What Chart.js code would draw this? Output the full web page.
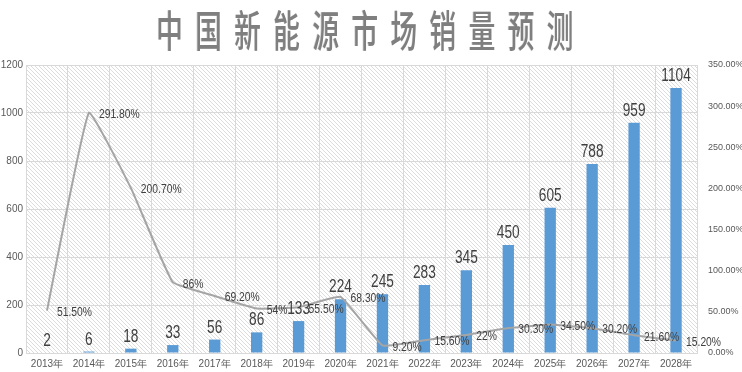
<!DOCTYPE html>
<html lang="zh">
<head>
    <meta charset="UTF-8">
    <title>中国新能源市场销量预测</title>
    <script src="https://cdn.jsdelivr.net/npm/chart.js"></script>
    <style>
        body { margin: 0; background: #fff; }
        .wrap { position: relative; width: 742px; height: 372px; }
        .title {
            position: absolute;
            left: 0; right: 0; top: 3px;
            text-align: center;
            font-family: "Noto Sans CJK SC", sans-serif;
            font-size: 43px;
            font-weight: 500;
            color: #7f7f7f;
            letter-spacing: 20px;
            transform: scaleX(0.62);
            text-shadow: -1px 0 #d0d0d0;
            line-height: 50px;
            white-space: nowrap;
        }
        canvas { position: absolute; left: 0; top: 0; }
    </style>
</head>
<body>
<div class="wrap">
    <canvas id="chart" width="742" height="372"></canvas>
    <div class="title">中国新能源市场销量预测</div>
</div>
<script>
    const years = ['2013年', '2014年', '2015年', '2016年', '2017年', '2018年', '2019年', '2020年',
                   '2021年', '2022年', '2023年', '2024年', '2025年', '2026年', '2027年', '2028年'];
    const sales = [2, 6, 18, 33, 56, 86, 133, 224, 245, 283, 345, 450, 605, 788, 959, 1104];
    const growth = [51.5, 291.8, 200.7, 86, 69.2, 54, 55.5, 68.3, 9.2, 15.6, 22, 30.3, 34.5, 30.2, 21.6, 15.2];

    function pct(v) {
        // Excel style: 86% stays 86%, 51.5 -> 51.50%
        return Number.isInteger(v) ? v + '%' : v.toFixed(2) + '%';
    }

    // diagonal hatch behind the plot
    const hatch = {
        id: 'hatch',
        beforeDraw(chart) {
            const { ctx, chartArea: a } = chart;
            ctx.save();
            ctx.beginPath();
            ctx.rect(a.left, a.top, a.right - a.left, a.bottom - a.top);
            ctx.clip();
            ctx.strokeStyle = '#dcdcdc';
            ctx.lineWidth = 1;
            const h = a.bottom - a.top;
            for (let x = a.left - h; x < a.right; x += 4) {
                ctx.beginPath();
                ctx.moveTo(x, a.top);
                ctx.lineTo(x + h, a.bottom);
                ctx.stroke();
            }
            ctx.restore();
        }
    };

    // narrow text, like Arial Narrow in the original
    function narrowText(ctx, text, x, y, sx) {
        ctx.save();
        ctx.translate(x, y);
        ctx.scale(sx, 1);
        ctx.fillText(text, 0, 0);
        ctx.restore();
    }

    // value labels for bars and line
    const labels = {
        id: 'labels',
        afterDatasetsDraw(chart) {
            const ctx = chart.ctx;
            ctx.save();
            ctx.fillStyle = '#404040';
            ctx.textBaseline = 'alphabetic';
            ctx.font = '18px "Liberation Sans", sans-serif';
            ctx.textAlign = 'center';
            chart.getDatasetMeta(0).data.forEach((el, i) => {
                narrowText(ctx, sales[i], el.x, el.y - 7, 0.76);
            });
            ctx.font = '12px "Liberation Sans", sans-serif';
            ctx.textAlign = 'left';
            ctx.textBaseline = 'middle';
            chart.getDatasetMeta(1).data.forEach((el, i) => {
                narrowText(ctx, pct(growth[i]), el.x + 10, el.y + 2, 0.86);
            });
            ctx.restore();
        }
    };

    new Chart(document.getElementById('chart'), {
        type: 'bar',
        data: {
            labels: years,
            datasets: [{
                type: 'bar',
                label: '销量',
                data: sales,
                backgroundColor: '#5b9bd5',
                categoryPercentage: 1,
                barPercentage: 0.27,
                yAxisID: 'y',
                order: 2
            }, {
                type: 'line',
                label: '增长率',
                data: growth,
                borderColor: '#a5a5a5',
                borderWidth: 2,
                pointRadius: 0,
                tension: 0.1,
                yAxisID: 'y1',
                order: 1
            }]
        },
        options: {
            responsive: false,
            animation: false,
            layout: { padding: { top: 65, right: 0, left: 0, bottom: 0 } },
            plugins: { legend: { display: false }, tooltip: { enabled: false } },
            scales: {
                x: {
                    grid: { color: '#d9d9d9', offset: true, drawTicks: false },
                    border: { color: '#d9d9d9' },
                    ticks: { color: '#595959', font: { size: 10, family: 'Liberation Sans' }, padding: 5, maxRotation: 0 },
                    afterFit(s) { s.height = 19; }
                },
                y: {
                    position: 'left',
                    min: 0, max: 1200,
                    ticks: {
                        stepSize: 200, color: '#595959', font: { size: 10, family: 'Liberation Sans' }, padding: 3,
                        callback: v => String(v)
                    },
                    grid: { color: '#d9d9d9', drawTicks: false },
                    border: { color: '#d9d9d9' },
                    afterFit(s) { s.width = 26; }
                },
                y1: {
                    position: 'right',
                    min: 0, max: 350,
                    ticks: {
                        stepSize: 50, color: '#595959', font: { size: 9, family: 'Liberation Sans' }, padding: 3,
                        callback: v => v.toFixed(2) + '%'
                    },
                    grid: { display: false },
                    border: { display: false },
                    afterFit(s) { s.width = 45; }
                }
            }
        },
        plugins: [hatch, labels]
    });
</script>
</body>
</html>
